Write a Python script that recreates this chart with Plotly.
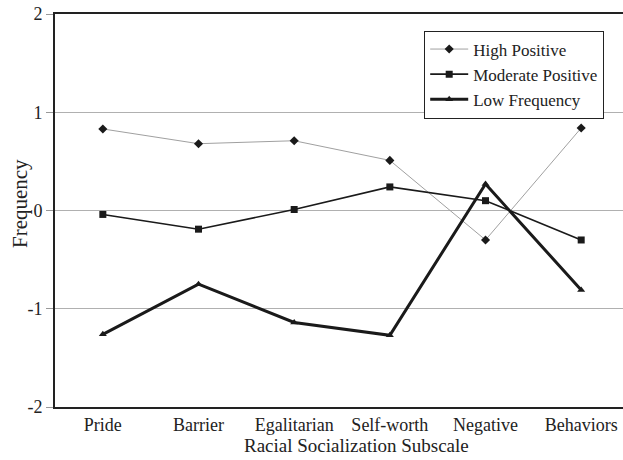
import plotly.graph_objects as go

categories = ["Pride", "Barrier", "Egalitarian", "Self-worth", "Negative", "Behaviors"]
high_positive = [0.83, 0.68, 0.71, 0.51, -0.30, 0.84]
moderate_positive = [-0.04, -0.19, 0.01, 0.24, 0.10, -0.30]
low_frequency = [-1.26, -0.75, -1.14, -1.27, 0.27, -0.81]
y_ticks = [-2, -1, 0, 1, 2]

x = list(range(len(categories)))
fig = go.Figure()
fig.add_trace(go.Scatter(x=x, y=high_positive, name="High Positive", mode="lines+markers",
                         line=dict(color="#a0a0a0", width=1),
                         marker=dict(symbol="diamond", size=7, color="#1a1a1a")))
fig.add_trace(go.Scatter(x=x, y=moderate_positive, name="Moderate Positive", mode="lines+markers",
                         line=dict(color="#1a1a1a", width=1.6),
                         marker=dict(symbol="square", size=7, color="#1a1a1a")))
fig.add_trace(go.Scatter(x=x, y=low_frequency, name="Low Frequency", mode="lines+markers",
                         line=dict(color="#1a1a1a", width=3),
                         marker=dict(symbol="triangle-up", size=7, color="#1a1a1a")))

font = "Liberation Serif, Times New Roman, serif"
fig.update_layout(
    width=623, height=460,
    margin=dict(l=55, r=0, t=14, b=53),
    paper_bgcolor="white", plot_bgcolor="white",
    font=dict(family=font, size=18, color="#222"),
    showlegend=True,
    legend=dict(x=0.65, y=0.958, xanchor="left", yanchor="top",
                bordercolor="#222", borderwidth=1, bgcolor="white",
                font=dict(size=17), tracegroupgap=0, itemwidth=38),
    xaxis=dict(tickmode="array", tickvals=x, ticktext=categories,
               range=[-0.5, 5.437], showgrid=False, zeroline=False, automargin=False,
               showline=True, linecolor="#222", linewidth=2, mirror=True,
               ticks="", tickfont=dict(size=18)),
    yaxis=dict(range=[-2, 2], tickvals=y_ticks, ticktext=[str(v) for v in y_ticks],
               showgrid=True, gridcolor="#b0b0b0", gridwidth=1, zeroline=False, automargin=False,
               showline=True, linecolor="#222", linewidth=2,
               ticks="outside", ticklen=7, tickcolor="#999", tickfont=dict(size=18)),
    annotations=[
        dict(text="Racial Socialization Subscale", xref="paper", yref="paper",
             x=0.53, y=0, yshift=-38, xanchor="center", yanchor="middle",
             showarrow=False, font=dict(size=19)),
        dict(text="Frequency", xref="paper", yref="paper", textangle=-90,
             x=0, xshift=-35, y=0.5165, xanchor="center", yanchor="middle",
             showarrow=False, font=dict(size=21)),
    ],
)
fig.write_html("out.html", config={"displayModeBar": False},
               post_script="document.body.style.margin='0';document.body.style.overflow='hidden';")
